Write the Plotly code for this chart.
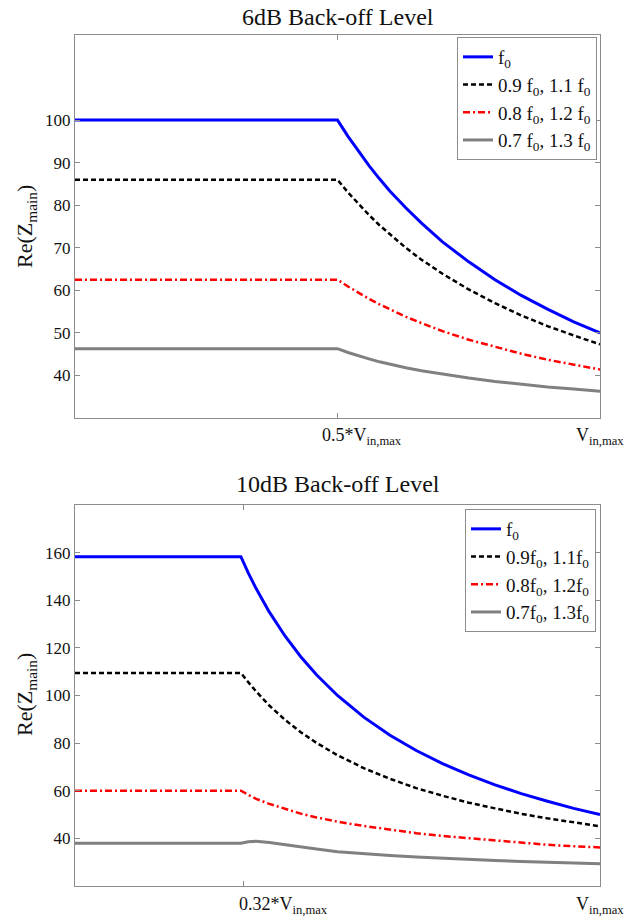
import plotly.graph_objects as go

# ---------------- data ----------------
# Top panel: 6dB back-off (x in units of V_in,max)
x_top = [0, 0.5, 0.52, 0.54, 0.56, 0.58, 0.6, 0.63, 0.66, 0.7, 0.75, 0.8, 0.85, 0.9, 0.95, 1.0]
top_f0 = [100, 100, 96.2, 92.6, 89.3, 86.2, 83.3, 79.4, 75.8, 71.4, 66.7, 62.5, 58.8, 55.6, 52.6, 50.0]
top_09 = [86.0, 86.0, 83.0, 80.3, 77.7, 75.3, 73.1, 70.0, 67.2, 63.9, 60.2, 57.0, 54.1, 51.6, 49.4, 47.3]
top_08 = [62.5, 62.5, 60.9, 59.4, 58.0, 56.7, 55.5, 53.8, 52.3, 50.4, 48.4, 46.7, 45.1, 43.7, 42.5, 41.4]
top_07 = [46.3, 46.3, 45.4, 44.6, 43.9, 43.2, 42.6, 41.8, 41.1, 40.3, 39.4, 38.6, 37.9, 37.3, 36.8, 36.3]

# Bottom panel: 10dB back-off
x_bot = [0, 0.316, 0.33, 0.345, 0.37, 0.4, 0.43, 0.46, 0.5, 0.55, 0.6, 0.65, 0.7, 0.75, 0.8, 0.85, 0.9, 0.95, 1.0]
bot_f0 = [158.3, 158.3, 151.5, 144.9, 135.1, 125.0, 116.3, 108.7, 100.0, 90.9, 83.3, 76.9, 71.4, 66.7, 62.5, 58.8, 55.6, 52.6, 50.0]
bot_09 = [109.5, 109.5, 105.6, 101.7, 95.8, 89.8, 84.6, 80.1, 74.9, 69.5, 65.0, 61.1, 57.9, 55.0, 52.6, 50.3, 48.4, 46.7, 45.1]
bot_08 = [60.0, 60.0, 58.3, 56.6, 54.5, 52.3, 50.4, 48.8, 47.0, 45.2, 43.6, 42.2, 41.0, 40.0, 39.0, 38.1, 37.3, 36.7, 36.2]
bot_07 = [38.0, 38.0, 38.6, 38.8, 38.3, 37.3, 36.4, 35.5, 34.4, 33.5, 32.8, 32.2, 31.6, 31.1, 30.7, 30.3, 29.9, 29.6, 29.3]

top_names = ["f<sub>0</sub>", "0.9 f<sub>0</sub>, 1.1 f<sub>0</sub>",
             "0.8 f<sub>0</sub>, 1.2 f<sub>0</sub>", "0.7 f<sub>0</sub>, 1.3 f<sub>0</sub>"]
bot_names = ["f<sub>0</sub>", "0.9f<sub>0</sub>, 1.1f<sub>0</sub>",
             "0.8f<sub>0</sub>, 1.2f<sub>0</sub>", "0.7f<sub>0</sub>, 1.3f<sub>0</sub>"]

top_xticks = [0.5, 1.0]
top_xticktext = ["0.5*V<sub>in,max</sub>", "V<sub>in,max</sub>"]
bot_xticks = [0.32, 1.0]
bot_xticktext = ["0.32*V<sub>in,max</sub>", "V<sub>in,max</sub>"]
top_yticks = [40, 50, 60, 70, 80, 90, 100]
bot_yticks = [40, 60, 80, 100, 120, 140, 160]

# ---------------- styles ----------------
styles = [
    dict(color="#0000FF", width=3, dash="solid"),
    dict(color="#000000", width=2.5, dash="5px,3px"),
    dict(color="#FF0000", width=2.5, dash="7px,3px,2px,3px"),
    dict(color="#808080", width=3, dash="solid"),
]
FONT = "Liberation Serif"
TXT = "#111111"

fig = go.Figure()
for ys, nm, st in zip([top_f0, top_09, top_08, top_07], top_names, styles):
    fig.add_trace(go.Scatter(x=x_top, y=ys, mode="lines", name=nm, line=st,
                             xaxis="x", yaxis="y", legend="legend"))
for ys, nm, st in zip([bot_f0, bot_09, bot_08, bot_07], bot_names, styles):
    fig.add_trace(go.Scatter(x=x_bot, y=ys, mode="lines", name=nm, line=st,
                             xaxis="x2", yaxis="y2", legend="legend2"))

H = 921.0
W = 625.0
xd = [75 / W, 600 / W]
yd_top = [1 - 418 / H, 1 - 35 / H]
yd_bot = [1 - 886 / H, 1 - 505 / H]

axis_common = dict(showgrid=False, zeroline=False, showline=True, linecolor="#8c8c8c",
                   linewidth=1, mirror="ticks", ticks="inside", ticklen=5,
                   tickcolor="#8c8c8c", tickfont=dict(family=FONT, size=17, color=TXT))

fig.update_layout(
    width=625, height=921,
    margin=dict(l=0, r=0, t=0, b=0),
    paper_bgcolor="white", plot_bgcolor="white",
    font=dict(family=FONT, size=17, color=TXT),
    xaxis=dict(domain=xd, anchor="y", range=[0, 1], tickvals=top_xticks,
               showticklabels=False, **axis_common),
    yaxis=dict(domain=yd_top, anchor="x", range=[30, 120], tickvals=top_yticks, **axis_common),
    xaxis2=dict(domain=xd, anchor="y2", range=[0, 1], tickvals=bot_xticks,
                showticklabels=False, **axis_common),
    yaxis2=dict(domain=yd_bot, anchor="x2", range=[20, 180], tickvals=bot_yticks, **axis_common),
    legend=dict(x=597 / W, y=1 - 37 / H, xanchor="right", yanchor="top",
                bgcolor="white", bordercolor="#8c8c8c", borderwidth=1,
                font=dict(family=FONT, size=19, color=TXT), itemwidth=30,
                tracegroupgap=0),
    legend2=dict(x=596 / W, y=1 - 509 / H, xanchor="right", yanchor="top",
                 bgcolor="white", bordercolor="#8c8c8c", borderwidth=1,
                 font=dict(family=FONT, size=19, color=TXT), itemwidth=30,
                 tracegroupgap=0),
    showlegend=True,
)

# x tick labels (MATLAB places the TeX labels slightly right of the tick)
lab_pos_top = [362, 600]
lab_pos_bot = [283, 600]
for txt, px in zip(top_xticktext, lab_pos_top):
    fig.add_annotation(text=txt, x=px / W, y=1 - 423 / H, xref="paper", yref="paper",
                       xanchor="center", yanchor="top", showarrow=False,
                       font=dict(family=FONT, size=18, color=TXT))
for txt, px in zip(bot_xticktext, lab_pos_bot):
    fig.add_annotation(text=txt, x=px / W, y=1 - 892 / H, xref="paper", yref="paper",
                       xanchor="center", yanchor="top", showarrow=False,
                       font=dict(family=FONT, size=18, color=TXT))

# Titles and y-axis labels
fig.add_annotation(text="6dB Back-off Level", x=337.5 / W, y=1 - 17 / H, xref="paper", yref="paper",
                   xanchor="center", yanchor="middle", showarrow=False,
                   font=dict(family=FONT, size=24, color=TXT))
fig.add_annotation(text="10dB Back-off Level", x=337.5 / W, y=1 - 484 / H, xref="paper", yref="paper",
                   xanchor="center", yanchor="middle", showarrow=False,
                   font=dict(family=FONT, size=24, color=TXT))
fig.add_annotation(text="Re(Z<sub>main</sub>)", x=26 / W, y=1 - 227 / H, xref="paper", yref="paper",
                   xanchor="center", yanchor="middle", showarrow=False, textangle=-90,
                   font=dict(family=FONT, size=22, color=TXT))
fig.add_annotation(text="Re(Z<sub>main</sub>)", x=26 / W, y=1 - 695 / H, xref="paper", yref="paper",
                   xanchor="center", yanchor="middle", showarrow=False, textangle=-90,
                   font=dict(family=FONT, size=22, color=TXT))

fig.write_html(
    "out.html",
    config={"displayModeBar": False},
    post_script="document.body.style.margin='0';document.body.style.overflow='hidden';"
                "document.documentElement.style.overflow='hidden';",
)
